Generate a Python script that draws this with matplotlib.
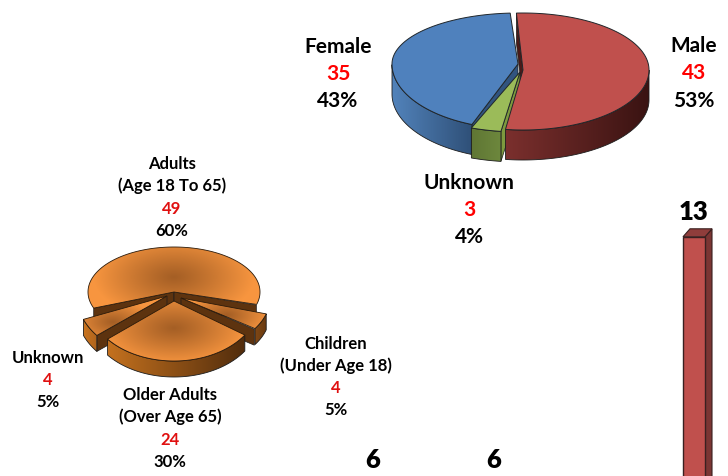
import numpy as np
import matplotlib
matplotlib.use("Agg")
import matplotlib.pyplot as plt
from matplotlib.patches import Polygon
from matplotlib.colors import to_rgb

gender_names = ["Male", "Unknown", "Female"]
gender_counts = [43, 3, 35]
gender_pcts = ["53%", "4%", "43%"]
age_names = [["Adults", "(Age 18 To 65)"], ["Children", "(Under Age 18)"],
             ["Older Adults", "(Over Age 65)"], ["Unknown"]]
age_counts = [49, 4, 24, 4]
age_pcts = ["60%", "5%", "30%", "5%"]
bar_values = [6, 6, 13]

FONT = "Lato"
W, H = 728, 476
fig = plt.figure(figsize=(W / 100, H / 100), dpi=100)
ax = fig.add_axes([0, 0, 1, 1])
ax.set_xlim(0, W)
ax.set_ylim(H, 0)
ax.axis("off")
yy, xx = np.mgrid[0:H, 0:W] + 0.5
z = [10]


def nz():
    z[0] += 1
    return z[0]


def angles(counts, start):
    frac = np.array(counts) / sum(counts)
    cum = start + 360 * np.concatenate([[0], np.cumsum(frac)])
    return list(zip(cum[:-1], cum[1:]))


def pt(c, rx, ry, t):
    """ry = (upper half radius, lower half radius)."""
    r = np.radians(np.asarray(t, float))
    cs = np.cos(r)
    return np.column_stack([c[0] + rx * np.sin(r),
                            c[1] - np.where(cs > 0, ry[0], ry[1]) * cs])


def paint(img, poly, ec, lw=0.6):
    zz = nz()
    im = ax.imshow(img, extent=(0, W, H, 0), aspect="auto", zorder=zz, interpolation="bilinear")
    patch = Polygon(poly, closed=True, fc="none", ec=ec, lw=lw, zorder=zz + 0.5)
    ax.add_patch(patch)
    im.set_clip_path(patch)


def h_grad(left, right, x0, x1):
    a, b = np.array(to_rgb(left)), np.array(to_rgb(right))
    f = np.clip((xx - x0) / (x1 - x0), 0, 1)[..., None]
    return a + (b - a) * f


def outer_wall(c, rx, ry, t0, t1, depth, left, right, x0, x1):
    ts = np.arange(max(t0, 90), min(t1, 270) + 0.01, 1.0)
    if len(ts) < 2:
        return
    p = pt(c, rx, ry, ts)
    paint(h_grad(left, right, x0, x1), np.vstack([p, p[::-1] + [0, depth]]), "#1c1c1c")


def radial_wall(c, rx, ry, t, depth, col):
    e = pt(c, rx, ry, [t])[0]
    c = np.array(c, float)
    ax.add_patch(Polygon([c, e, e + [0, depth], c + [0, depth]], closed=True,
                         fc=col, ec="#1c1c1c", lw=0.5, zorder=nz()))


def face_poly(c, rx, ry, t0, t1):
    ts = np.arange(t0, t1 + 0.01, 1.0)
    return np.vstack([[c], pt(c, rx, ry, ts)])


def flat_face(c, rx, ry, t0, t1, col):
    ax.add_patch(Polygon(face_poly(c, rx, ry, t0, t1), closed=True, fc=col,
                         ec="#20262a", lw=0.7, zorder=nz()))


def grad_face(c, rx, ry, t0, t1, glow, inner, outer, gr):
    d = np.hypot((xx - glow[0]) / gr[0], (yy - glow[1]) / gr[1])
    a, b = np.array(to_rgb(inner)), np.array(to_rgb(outer))
    img = a + (b - a) * np.clip(d, 0, 1)[..., None] ** 1.1
    paint(img, face_poly(c, rx, ry, t0, t1), "#2a1a0a")


# ---- gender pie
(m0, m1), (u0, u1), (f0, f1) = angles(gender_counts, -3)
Cm, Cu, Cf = (523, 70), (520, 72), (518, 64)
RX = 126
Dg = 30
Rf, Rm, Ru = (51, 65), (57, 60), (60, 60)

radial_wall(Cf, RX, Rf, f0, Dg, "#31547f")
outer_wall(Cf, RX, Rf, f0, f1, Dg, "#5283bb", "#2f5078", 392, 472)
flat_face(Cf, RX, Rf, f0, f1, "#4f81bd")
radial_wall(Cu, 135, Ru, u0, Dg, "#7d9a3e")
radial_wall(Cm, RX, Rm, m0, Dg, "#4a1a19")
outer_wall(Cm, RX, Rm, m0, m1, Dg, "#7a2f2d", "#3a1312", 508, 648)
flat_face(Cm, RX, Rm, m0, m1, "#c0504d")
outer_wall(Cu, 135, Ru, u0, u1, Dg, "#5f7634", "#6f8a3e", 471, 505)
flat_face(Cu, 135, Ru, u0, u1, "#9bbb59")

# ---- age pie
(a0, a1), (c0, c1), (o0, o1), (k0, k1) = angles(age_counts, -111)
RA = 86
Da = 16
OR_IN, OR_OUT = "#a55f25", "#f7953f"
WL, WR = "#c9741f", "#4d2a0c"
wall_dark = "#5d330f"

Ca, Cc, Co, Ck = (174, 292), (181, 298), (174, 301), (167, 296)
Ra, Rc, Ro, Rk = (45, 45), (55, 55), (60, 60), (63, 63)
radial_wall(Ca, RA, Ra, a0, Da, wall_dark)
radial_wall(Ca, RA, Ra, a1, Da, wall_dark)
grad_face(Ca, RA, Ra, a0, a1, (174, 277), OR_IN, OR_OUT, (80, 42))
radial_wall(Cc, 89, Rc, c1, Da, wall_dark)
outer_wall(Cc, 89, Rc, c0, c1, Da, "#8a4d17", "#6b3b10", 250, 266)
grad_face(Cc, 89, Rc, c0, c1, (227, 315), OR_IN, OR_OUT, (42, 22))
radial_wall(Ck, 90, Rk, k0, Da, wall_dark)
outer_wall(Ck, 90, Rk, k0, k1, Da, "#c9741f", "#a9601c", 84, 100)
grad_face(Ck, 90, Rk, k0, k1, (113, 322), OR_IN, OR_OUT, (42, 22))
outer_wall(Co, RA, Ro, o0, o1, Da, WL, WR, 102, 250)
grad_face(Co, RA, Ro, o0, o1, (174, 328), OR_IN, OR_OUT, (72, 36))

# ---- bars (clipped by the canvas)
BASE, K = 697, 35.4
bar_x = [373, 494, 694]
BW, DX, DY = 22, 7, 8
for v, x in zip(bar_values, bar_x):
    top = BASE - v * K
    l, r = x - BW / 2, x + BW / 2
    ec = "#3a2020"
    zz = nz()
    ax.add_patch(Polygon([(r, top), (r + DX, top - DY), (r + DX, BASE), (r, BASE)], closed=True,
                         fc="#7b3533", ec=ec, lw=0.8, zorder=zz))
    ax.add_patch(Polygon([(l, top), (l + DX, top - DY), (r + DX, top - DY), (r, top)], closed=True,
                         fc="#8f3d3b", ec=ec, lw=0.8, zorder=zz))
    ax.add_patch(Polygon([(l, top), (r, top), (r, BASE), (l, BASE)], closed=True,
                         fc="#c0504d", ec=ec, lw=1.0, zorder=zz))
    ax.text(x - 0.5 if v > 10 else x, top - 24.5, str(v), family=FONT, weight="heavy",
            fontsize=18.5, ha="center", va="center", color="black", zorder=50)


# ---- labels
def label(x, y, txt, size, col="black"):
    ax.text(x, y + 1, txt, family=FONT, weight="bold", fontsize=size, ha="center",
            va="center", color=col, zorder=60)


gender_xy = [(694, (45, 72, 100)), (469, (182, 209, 236)), (338, (46, 73, 100))]
for n, v, p, (x, ys) in zip(gender_names, gender_counts, gender_pcts, gender_xy):
    label(x, ys[0], n, 15)
    label(x, ys[1], str(v), 15, "#ff0000")
    label(x, ys[2], p, 15)

age_xy = [(172, (163, 185, 208, 230)), (336, (343, 365, 387, 409)),
          (170, (394, 416, 439, 461)), (48, (357, 379, 401))]
for n, v, p, (x, ys) in zip(age_names, age_counts, age_pcts, age_xy):
    lines = n + [str(v), p]
    for i, (s, y) in enumerate(zip(lines, ys)):
        label(x, y, s, 12, "#e01010" if i == len(n) else "black")

fig.savefig("out.png", dpi=100, facecolor="white")
